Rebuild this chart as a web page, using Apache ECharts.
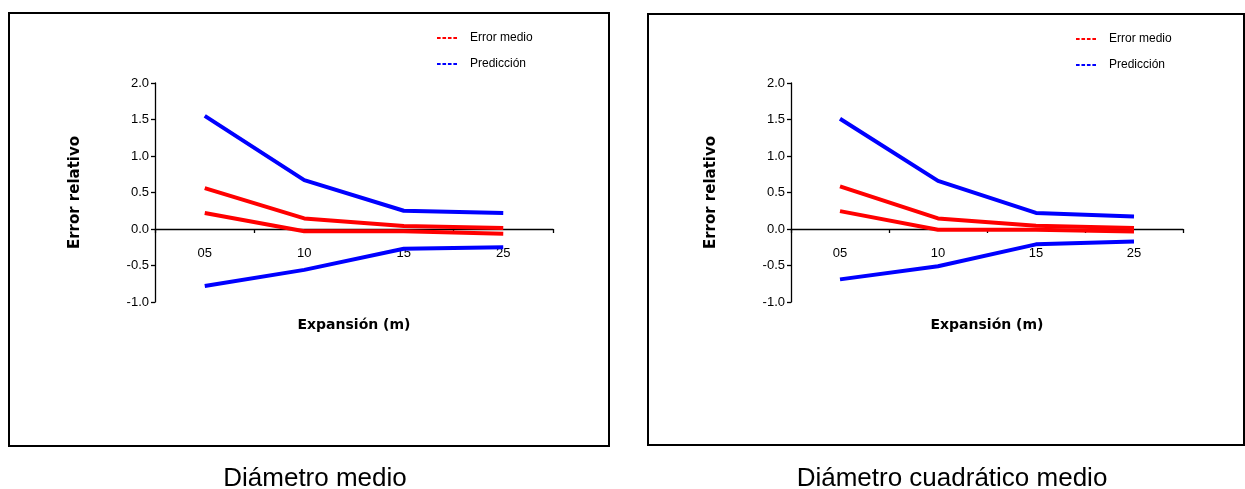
<!DOCTYPE html>
<html>
<head>
<meta charset="utf-8">
<script src="https://cdn.jsdelivr.net/npm/echarts@6/dist/echarts.min.js"></script>
<style>
html,body{margin:0;padding:0;background:#fff;}
#chart{width:1245px;height:489px;}
</style>
</head>
<body>
<div id="chart"></div>
<script>
// ---- data ----
const categories = ['05', '10', '15', '25'];
const yTicks = [-1.0, -0.5, 0.0, 0.5, 1.0, 1.5, 2.0];
const panelTitles = ['Diámetro medio', 'Diámetro cuadrático medio'];
const legendNames = ['Error medio', 'Predicción'];
const xAxisName = 'Expansión (m)';
const yAxisName = 'Error relativo';

// Diámetro medio
const dmErrorSup = [0.56, 0.145, 0.04, 0.015];
const dmErrorInf = [0.22, -0.03, -0.03, -0.065];
const dmPredSup  = [1.55, 0.67, 0.25, 0.22];
const dmPredInf  = [-0.78, -0.56, -0.27, -0.25];

// Diámetro cuadrático medio
const dcmErrorSup = [0.585, 0.145, 0.045, 0.015];
const dcmErrorInf = [0.245, -0.01, -0.01, -0.035];
const dcmPredSup  = [1.51, 0.66, 0.22, 0.17];
const dcmPredInf  = [-0.69, -0.51, -0.21, -0.17];

// ---- chart ----
const RED = '#ff0000', BLUE = '#0000ff';
const FONT = 'Liberation Sans, Arial, sans-serif';
const dashIcon = 'path://M0 0h4v2H0z M6 0h4v2H6z M12 0h4v2h-4z M18 0h4v2h-4z';

function xAxisCfg(gi) {
  return {
    type: 'category', gridIndex: gi, data: categories, boundaryGap: true,
    axisLine: { onZero: true, lineStyle: { color: '#000', width: 1.3 } },
    axisTick: { show: true, length: 4, lineStyle: { color: '#000', width: 1.3 } },
    axisLabel: { margin: -55, fontSize: 13, color: '#000', fontFamily: FONT },
    splitLine: { show: false },
    name: xAxisName, nameLocation: 'middle', nameGap: 16,
    nameTextStyle: { fontSize: 14, fontWeight: 'bold', color: '#000', fontFamily: 'DejaVu Sans, sans-serif' }
  };
}
function yAxisCfg(gi) {
  return {
    type: 'value', gridIndex: gi, min: yTicks[0], max: yTicks[yTicks.length - 1], interval: 0.5,
    axisLine: { show: true, onZero: false, lineStyle: { color: '#000', width: 1.3 } },
    axisTick: { show: true, length: 4, lineStyle: { color: '#000', width: 1.3 } },
    axisLabel: { margin: 6, fontSize: 13, color: '#000', fontFamily: FONT,
      formatter: v => v.toFixed(1) },
    splitLine: { show: false },
    name: yAxisName, nameLocation: 'middle', nameRotate: 90, nameGap: 72,
    nameTextStyle: { fontSize: 15, fontWeight: 'bold', color: '#000', fontFamily: 'DejaVu Sans, sans-serif' }
  };
}
function lineSeries(name, data, color, gi) {
  return {
    type: 'line', name: name, data: data, xAxisIndex: gi, yAxisIndex: gi,
    symbol: 'none', showSymbol: false, silent: true,
    lineStyle: { color: color, width: 4 }, itemStyle: { color: color },
    emphasis: { disabled: true }, animation: false
  };
}
function legendCfg(left, top) {
  return {
    orient: 'vertical', left: left, top: top, itemGap: 14,
    itemWidth: 20, itemHeight: 3, icon: dashIcon,
    data: legendNames,
    textStyle: { fontSize: 12, color: '#000', fontFamily: FONT, padding: [0, 0, 0, 8] },
    selectedMode: false
  };
}

const chart = echarts.init(document.getElementById('chart'), null, { renderer: 'canvas' });
chart.setOption({
  animation: false,
  backgroundColor: '#fff',
  title: [
    { text: panelTitles[0], left: 310, top: 461, textAlign: 'center',
      textStyle: { fontSize: 26, fontWeight: 'normal', color: '#000', fontFamily: FONT } },
    { text: panelTitles[1], left: 947, top: 461, textAlign: 'center',
      textStyle: { fontSize: 26, fontWeight: 'normal', color: '#000', fontFamily: FONT } }
  ],
  graphic: [
    { type: 'rect', shape: { x: 9, y: 13, width: 600, height: 433 },
      style: { fill: null, stroke: '#000', lineWidth: 2 }, silent: true, z: -1 },
    { type: 'rect', shape: { x: 648, y: 14, width: 596, height: 431 },
      style: { fill: null, stroke: '#000', lineWidth: 2 }, silent: true, z: -1 }
  ],
  legend: [legendCfg(432, 27), legendCfg(1071, 28)],
  grid: [
    { left: 155, top: 83, width: 398, height: 219, containLabel: false },
    { left: 791, top: 83, width: 392, height: 219, containLabel: false }
  ],
  xAxis: [xAxisCfg(0), xAxisCfg(1)],
  yAxis: [yAxisCfg(0), yAxisCfg(1)],
  series: [
    lineSeries(legendNames[1], dmPredSup, BLUE, 0),
    lineSeries(legendNames[1], dmPredInf, BLUE, 0),
    lineSeries(legendNames[0], dmErrorSup, RED, 0),
    lineSeries(legendNames[0], dmErrorInf, RED, 0),
    lineSeries(legendNames[1], dcmPredSup, BLUE, 1),
    lineSeries(legendNames[1], dcmPredInf, BLUE, 1),
    lineSeries(legendNames[0], dcmErrorSup, RED, 1),
    lineSeries(legendNames[0], dcmErrorInf, RED, 1)
  ]
});
</script>
</body>
</html>
